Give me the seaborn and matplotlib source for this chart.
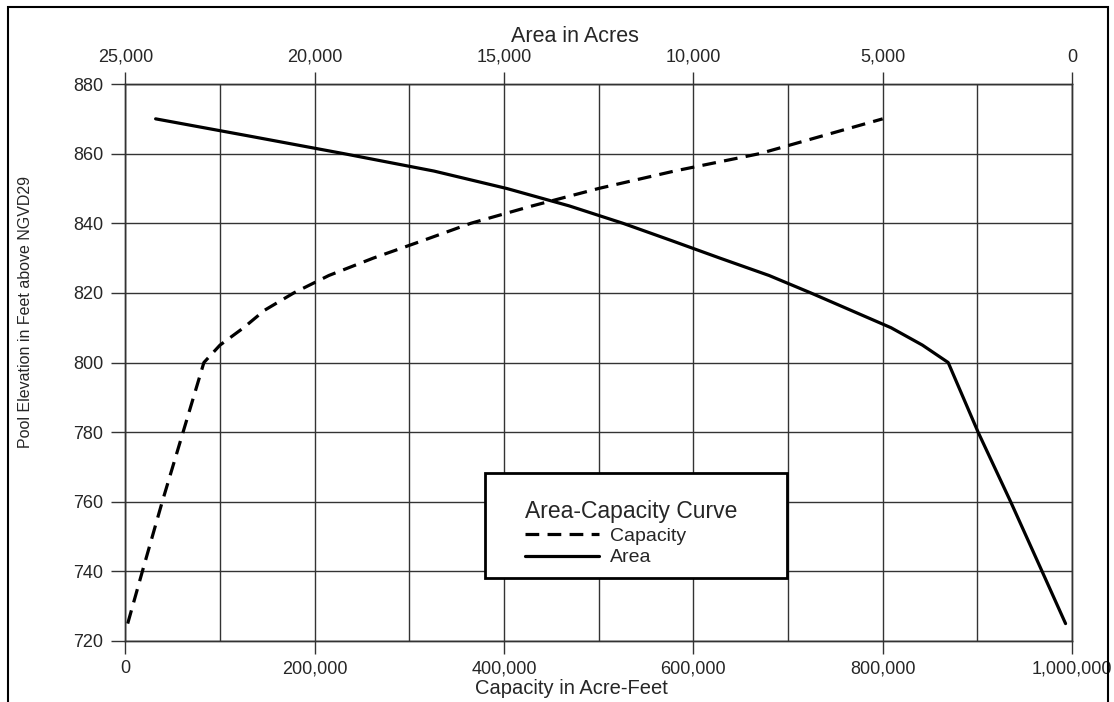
import numpy as np
import pandas as pd
import seaborn as sns
import matplotlib.pyplot as plt
from matplotlib.patches import Rectangle
from matplotlib.ticker import FuncFormatter, MultipleLocator

cap_elev = [725, 740, 760, 780, 800, 805, 810, 815, 820, 825, 830, 835, 840, 845, 850, 855, 860, 865, 870]
capacity = [2500, 18000, 39000, 61000, 83000, 100000, 125000, 147000, 178000, 215000, 262000, 314000,
            365000, 430000, 500000, 580000, 670000, 735000, 800000]
area_elev = [725, 740, 760, 780, 800, 805, 810, 815, 820, 825, 830, 835, 840, 845, 850, 855, 860, 865, 870]
area = [170, 790, 1620, 2480, 3270, 3950, 4780, 5840, 6900, 8000, 9300, 10570, 11860, 13280, 14930,
        16850, 19230, 21700, 24200]

sns.set_style("white")
plt.rcParams['font.family'] = ['Liberation Sans', 'DejaVu Sans']

fig = plt.figure(figsize=(11.14, 7.02), dpi=100)
ax = fig.add_axes([0.1125, 0.0869, 0.8498, 0.7934])

df_cap = pd.DataFrame({"capacity": capacity, "elev": cap_elev})
df_area = pd.DataFrame({"area": area, "elev": area_elev})

sns.lineplot(data=df_cap, x="capacity", y="elev", sort=False, ax=ax, color="black",
             linewidth=2.3, linestyle=(0, (4.3, 2.6)), label="Capacity")
ax.set_xlim(0, 1000000)
ax.set_ylim(720, 880)

ax2 = ax.twiny()
sns.lineplot(data=df_area, x="area", y="elev", sort=False, ax=ax2, color="black",
             linewidth=2.3, label="Area")
ax2.set_xlim(25000, 0)
ax2.set_ylim(720, 880)

# Rejilla
ax.xaxis.set_major_locator(MultipleLocator(200000))
ax.xaxis.set_minor_locator(MultipleLocator(100000))
ax.yaxis.set_major_locator(MultipleLocator(20))
ax.grid(True, which="both", axis="x", color="#333333", linewidth=1)
ax.grid(True, which="major", axis="y", color="#333333", linewidth=1)
ax.xaxis.set_major_formatter(FuncFormatter(lambda v, p: f"{int(v):,}"))
ax2.xaxis.set_major_locator(MultipleLocator(5000))
ax2.xaxis.set_major_formatter(FuncFormatter(lambda v, p: f"{int(v):,}"))

ax.tick_params(axis="x", which="major", direction="out", length=9, width=1, color="#333333",
               labelsize=13, pad=5, bottom=True)
ax.tick_params(axis="x", which="minor", length=0)
ax.tick_params(axis="y", direction="out", length=10, width=1, color="#333333", labelsize=13, pad=6, left=True)
ax2.tick_params(axis="x", direction="out", length=9, width=1, color="#333333", labelsize=13, pad=4, top=True)

for a in (ax, ax2):
    for s in a.spines.values():
        s.set_color("#333333")
        s.set_linewidth(1)

ax.set_xlabel("Capacity in Acre-Feet", fontsize=14.5)
ax.xaxis.set_label_coords(0.471, -0.068)
ax.set_ylabel("Pool Elevation in Feet above NGVD29", fontsize=11.5)
ax.yaxis.set_label_coords(-0.0975, 0.591)
ax2.set_xlabel("Area in Acres", fontsize=15.5)
ax2.xaxis.set_label_coords(0.475, 1.075)
ax2.set_ylabel("")

# Leyenda con recuadro
h1, l1 = ax.get_legend_handles_labels()
h2, l2 = ax2.get_legend_handles_labels()
ax.get_legend().remove()
ax2.get_legend().remove()
box = Rectangle((485 / 1114, 1 - 578 / 702), 302 / 1114, 105 / 702, transform=fig.transFigure,
                facecolor="white", edgecolor="black", linewidth=2, zorder=5)
fig.patches.append(box)
leg = fig.legend(h1 + h2, l1 + l2, title="Area-Capacity Curve", loc="upper left",
                 bbox_to_anchor=(515 / 1114, 1 - 490 / 702), frameon=False, fontsize=14,
                 title_fontsize=16.5, alignment="left", borderpad=0, handlelength=3.8,
                 handletextpad=0.6, labelspacing=0.25, handleheight=0.6)
leg.set_zorder(6)

# Marco exterior
fig.patches.append(Rectangle((8 / 1114, -0.05), 1100 / 1114, 1.05 - 7 / 702, transform=fig.transFigure,
                             fill=False, edgecolor="black", linewidth=1.5, clip_on=False))

fig.savefig("out.png", dpi=100)
